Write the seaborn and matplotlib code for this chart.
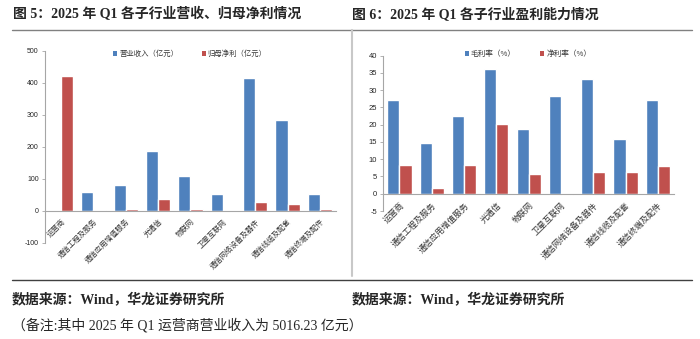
import numpy as np
import pandas as pd
import matplotlib
matplotlib.use("Agg")
import matplotlib.pyplot as plt
from matplotlib.lines import Line2D
from matplotlib.patches import Patch
import seaborn as sns

# Sub-industry categories
categories = ["运营商", "通信工程及服务", "通信应用增值服务", "光通信", "物联网",
              "卫星互联网", "通信网络设备及器件", "通信线缆及配套", "通信终端及配件"]

# 2025 Q1 revenue and net profit attributable to parent (亿元)
revenue = [np.nan, 58, 82, 186, 110, 51, 416, 285, 53]
net_profit = [421, 1, 7, 38, 5, 0, 27, 20, 4]

# 2025 Q1 gross margin and net margin (%)
gross_margin = [27.2, 14.8, 22.6, 36.1, 18.8, 28.3, 33.2, 15.9, 27.3]
net_margin = [8.4, 1.6, 8.2, 20.2, 5.7, -0.3, 6.3, 6.3, 8.0]

left_series = ["营业收入（亿元）", "归母净利（亿元）"]
right_series = ["毛利率（%）", "净利率（%）"]
left_yticks = [-100, 0, 100, 200, 300, 400, 500]
right_yticks = [-5, 0, 5, 10, 15, 20, 25, 30, 35, 40]

BLUE = "#4F81BD"
RED = "#C0504D"
AXIS = "#A6A6A6"

sns.set_style("white")
plt.rcParams["font.family"] = ["Noto Sans CJK SC", "DejaVu Sans"]
plt.rcParams["axes.unicode_minus"] = False

W, H = 700, 339
fig = plt.figure(figsize=(W / 100, H / 100), dpi=100)


def px_axes(x0, x1, y_top, y_bot):
    return fig.add_axes([x0 / W, 1 - y_bot / H, (x1 - x0) / W, (y_bot - y_top) / H])


def long_frame(names, a, b):
    return pd.DataFrame({
        "cat": categories * 2,
        "series": [names[0]] * len(categories) + [names[1]] * len(categories),
        "value": list(a) + list(b),
    })


def style_axes(ax, yticks, xfs, yfs):
    ax.set_ylim(yticks[0], yticks[-1])
    ax.set_yticks(yticks)
    ax.set_xlim(-0.5, len(categories) - 0.5)
    for s in ("top", "right"):
        ax.spines[s].set_visible(False)
    ax.spines["left"].set_color(AXIS)
    ax.spines["left"].set_linewidth(0.8)
    ax.spines["bottom"].set_position(("data", 0))
    ax.spines["bottom"].set_color(AXIS)
    ax.spines["bottom"].set_linewidth(0.8)
    ax.tick_params(axis="y", length=2.5, width=0.6, color=AXIS, pad=2,
                   labelsize=yfs, left=True)
    ax.tick_params(axis="x", length=0, pad=5)
    for t in ax.get_yticklabels():
        t.set_fontfamily(["Liberation Sans", "DejaVu Sans"])
    ax.set_xticks(range(len(categories)))
    ax.set_xticklabels(categories, rotation=45, ha="right", va="top",
                       rotation_mode="anchor", fontsize=xfs, color="#333333")
    ax.set_xlabel("")
    ax.set_ylabel("")
    ax.patch.set_alpha(0)


def add_legend(ax, names, cx, cy, fs):
    handles = [Patch(facecolor=BLUE, edgecolor="none"),
               Patch(facecolor=RED, edgecolor="none")]
    ax.legend(handles, names, ncol=2, loc="center",
              bbox_to_anchor=(cx / W, 1 - cy / H), bbox_transform=fig.transFigure,
              frameon=False, fontsize=fs, handlelength=0.55, handleheight=0.55,
              handletextpad=0.25, columnspacing=3.2, labelcolor="#333333")


# Left panel: revenue and net profit
axL = px_axes(45, 336, 51, 242.7)
sns.barplot(data=long_frame(left_series, revenue, net_profit), x="cat", y="value",
            hue="series", palette=[BLUE, RED], width=0.75, errorbar=None,
            saturation=1, ax=axL, legend=False)
style_axes(axL, left_yticks, 5.3, 5)
add_legend(axL, left_series, 190, 54, 5.3)

# Right panel: gross and net margins
axR = px_axes(383.3, 674, 55.7, 211)
sns.barplot(data=long_frame(right_series, gross_margin, net_margin), x="cat", y="value",
            hue="series", palette=[BLUE, RED], width=0.75, errorbar=None,
            saturation=1, ax=axR, legend=False)
style_axes(axR, right_yticks, 6, 5.5)
add_legend(axR, right_series, 528, 54, 5.5)


def fig_line(x0, y0, x1, y1, color, lw):
    fig.add_artist(Line2D([x0 / W, x1 / W], [1 - y0 / H, 1 - y1 / H],
                          transform=fig.transFigure, color=color, lw=lw))


# Rules framing the two panels
fig_line(12, 30, 692, 30, "#808080", 1.0)
fig_line(12, 280, 692, 280, "#404040", 1.0)
fig_line(352, 30, 352, 276, "#C8C8C8", 1.5)

serif_cjk = ["Liberation Serif", "Noto Sans CJK SC"]
fig.text(13 / W, 1 - 14 / H, "图 5：2025 年 Q1 各子行业营收、归母净利情况",
         family=serif_cjk, fontweight="bold", fontsize=10, va="center", ha="left")
fig.text(352 / W, 1 - 14 / H, "图 6：2025 年 Q1 各子行业盈利能力情况",
         family=serif_cjk, fontweight="bold", fontsize=10, va="center", ha="left")
fig.text(12 / W, 1 - 300 / H, "数据来源：Wind，华龙证券研究所",
         family=serif_cjk, fontweight="bold", fontsize=10, va="center", ha="left")
fig.text(352 / W, 1 - 300 / H, "数据来源：Wind，华龙证券研究所",
         family=serif_cjk, fontweight="bold", fontsize=10, va="center", ha="left")
fig.text(12 / W, 1 - 325 / H, "（备注:其中 2025 年 Q1 运营商营业收入为 5016.23 亿元）",
         family=serif_cjk, fontsize=10, va="center", ha="left")

fig.savefig("out.png", dpi=100)
